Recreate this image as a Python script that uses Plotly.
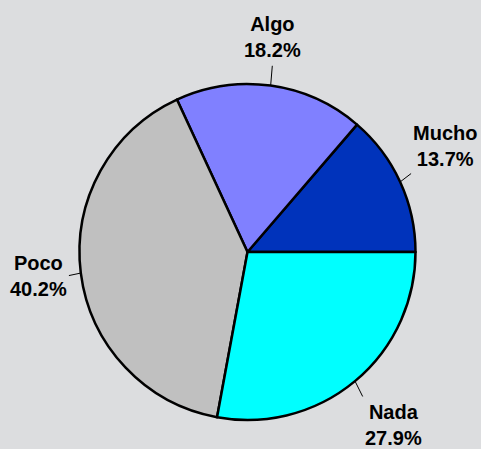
import math
import plotly.graph_objects as go

labels = ["Mucho", "Algo", "Poco", "Nada"]
values = [13.7, 18.2, 40.2, 27.9]
colors = ["#0033BB", "#8080FF", "#C0C0C0", "#00FFFF"]

W, H = 481, 449
cx, cy, r = 247.5, 252.0, 168.0  # pixel centre (from top) and radius

total = sum(values)

fig = go.Figure(go.Pie(
    labels=labels, values=values, sort=False,
    direction="counterclockwise", rotation=90 - 360.0 * values[0] / total,
    marker=dict(colors=colors, line=dict(color="black", width=2.5)),
    textinfo="none", hoverinfo="label+percent", showlegend=False,
    domain=dict(x=[(cx - r) / W, (cx + r) / W],
                y=[(H - cy - r) / H, (H - cy + r) / H]),
))

start = 0.0
shapes, annots = [], []
for lab, v in zip(labels, values):
    frac = v / total
    mid = math.radians((start + frac / 2) * 360.0)
    start += frac
    c, s = math.cos(mid), math.sin(mid)
    x0, y0 = cx + r * c, cy - r * s
    x1, y1 = cx + (r + 12) * c, cy - (r + 20) * s
    tx, ty = x1, cy - (r + 23) * s
    shapes.append(dict(type="line", xref="paper", yref="paper",
                       x0=x0 / W, y0=1 - y0 / H, x1=x1 / W, y1=1 - y1 / H,
                       line=dict(color="black", width=1)))
    xa = "left" if c > 0.25 else ("right" if c < -0.25 else "center")
    ya = "bottom" if s > 0.25 else ("top" if s < -0.25 else "middle")
    annots.append(dict(xref="paper", yref="paper", x=tx / W, y=1 - ty / H,
                       xanchor=xa, yanchor=ya, showarrow=False, align="center",
                       text=f"<b>{lab}<br>{v:.1f}%</b>",
                       font=dict(family="Liberation Sans, Arial, sans-serif",
                                 size=20, color="black")))

fig.update_layout(
    width=W, height=H, margin=dict(l=0, r=0, t=0, b=0),
    paper_bgcolor="#DCDDDF", plot_bgcolor="#DCDDDF",
    shapes=shapes, annotations=annots,
)
fig.write_html("out.html", config={"displayModeBar": False},
               post_script="document.body.style.margin='0';"
                           "document.body.style.background='#DCDDDF';")
